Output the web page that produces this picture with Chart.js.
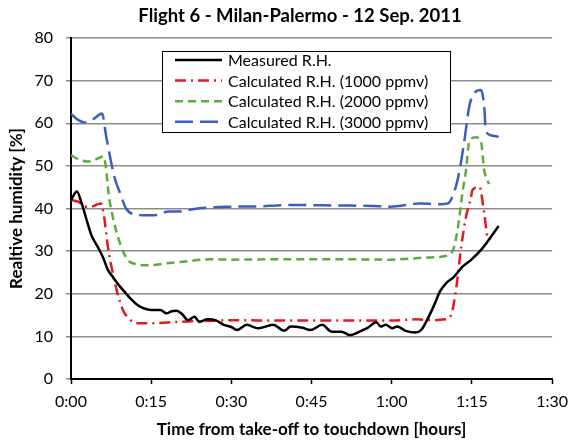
<!DOCTYPE html>
<html>
<head>
<meta charset="utf-8">
<script src="https://cdn.jsdelivr.net/npm/chart.js@4.4.1/dist/chart.umd.min.js"></script>
<style>
  html, body { margin: 0; padding: 0; background: #fff; }
  #wrap { width: 576px; height: 443px; }
</style>
</head>
<body>
<div id="wrap"><canvas id="mainChart" width="576" height="443"></canvas></div>
<script>
// Flight 6 - relative humidity, measured vs calculated (time in minutes)

const seriesNames = [
  'Measured R.H.',
  'Calculated R.H. (1000 ppmv)',
  'Calculated R.H. (2000 ppmv)',
  'Calculated R.H. (3000 ppmv)'
];

const measuredT = [0, 1.1, 2, 3, 3.8, 5, 6, 6.9, 7.8, 8.7, 10, 11.1, 12.3, 13.6, 15, 16.7, 17.9, 18.8, 19.7, 20.8, 21.9, 23.1, 24, 25.5, 27, 28.6, 30, 31, 32.9, 35, 37.8, 39.9, 41.1, 43.3, 44.8, 47, 48.8, 50.6, 52.2, 54.3, 55.5, 57.1, 58, 58.9, 60.1, 61, 62.6, 64.5, 65.5, 66.6, 68.1, 69, 70.2, 71.5, 73.3, 74.8, 77, 80];
const measuredRH = [42, 44, 41.2, 37, 33.8, 31, 28.5, 25.6, 24, 22.4, 20.5, 18.9, 17.5, 16.6, 16.2, 16.2, 15.4, 15.9, 16, 15.2, 13.8, 14.6, 13.4, 14, 13.8, 12.7, 12.2, 11.5, 12.7, 11.9, 12.7, 11.3, 12.3, 12, 11.5, 12.7, 11.1, 11.1, 10.3, 11.3, 12, 13.3, 12.3, 12.7, 11.9, 12.3, 11.3, 10.9, 11.5, 13.8, 17.8, 20.5, 22.5, 23.8, 26.4, 27.9, 30.7, 35.9];

const calc1000T = [0, 1.5, 2.6, 4, 5.6, 6.2, 6.9, 7.8, 8.7, 9.6, 10.5, 12.4, 15, 20, 25, 30, 40, 50, 60, 64.5, 67.8, 70, 71.1, 72.1, 73, 73.9, 74.8, 75.1, 76.4, 77.3, 77.9, 78.3];
const calc1000RH = [42, 41.5, 40.4, 40.5, 41.2, 38, 31, 25, 20.1, 16.5, 14.6, 13.1, 13.1, 13.4, 13.6, 13.8, 13.7, 13.7, 13.7, 14, 13.8, 14, 15, 21.6, 31, 38, 42.4, 44.3, 45.1, 38.9, 33.4, 32.6];

const calc2000T = [0, 1.5, 3.2, 4.6, 6.1, 7.2, 8.4, 9.9, 11, 12, 13, 15, 17.6, 20.9, 26.1, 30, 38.4, 50.6, 59.8, 66.6, 70.2, 71.5, 72.4, 73.3, 73.9, 74.5, 75.7, 76.7, 77.3, 78.2];
const calc2000RH = [52.5, 51.5, 51, 51.5, 52.2, 42, 35, 29.5, 27.5, 27, 26.7, 26.7, 27.1, 27.5, 28.1, 28, 28.1, 28.1, 28, 28.5, 28.9, 30.3, 35.7, 44.3, 49, 55.7, 56.7, 55.7, 49, 45.7];

const calc3000T = [0, 1.3, 2.6, 4.2, 5.8, 6.6, 8.1, 9.3, 10.3, 12, 14, 16, 18.2, 20, 23.7, 29.2, 35, 40.2, 43.9, 49.4, 56.8, 59.8, 65.3, 69, 70.5, 71.8, 72.7, 73.6, 74.5, 75.4, 76.7, 77.3, 77.6, 78.5, 80];
const calc3000RH = [62.2, 60.8, 60.2, 61, 62.3, 56.8, 47.5, 43.2, 40, 38.6, 38.4, 38.5, 39.3, 39.3, 40, 40.4, 40.5, 40.8, 40.8, 40.7, 40.6, 40.4, 41.2, 41, 41.2, 44.3, 49, 56, 63.9, 67, 67.8, 63.9, 58.4, 57.2, 56.8];

const xTicks = [0, 15, 30, 45, 60, 75, 90];
const yTicks = [0, 10, 20, 30, 40, 50, 60, 70, 80];

const colors = ['#000000', '#e31a1c', '#5aad3c', '#3b5fbf'];
const dashes = [[], [11, 5, 2, 5], [8, 5], [18, 7]];

const FONT = 'Lato, "Liberation Sans", sans-serif';
const TITLE = 'Flight 6 - Milan-Palermo - 12 Sep. 2011';

function toPoints(t, v) {
  return t.map((x, i) => ({ x: x, y: v[i] }));
}

function hhmm(min) {
  const h = Math.floor(min / 60);
  const m = Math.round(min % 60);
  return h + ':' + (m < 10 ? '0' + m : m);
}

const allT = [measuredT, calc1000T, calc2000T, calc3000T];
const allRH = [measuredRH, calc1000RH, calc2000RH, calc3000RH];

const datasets = seriesNames.map((name, i) => ({
  label: name,
  data: toPoints(allT[i], allRH[i]),
  borderColor: colors[i],
  borderWidth: 2.5,
  borderDash: dashes[i],
  pointRadius: 0,
  tension: 0.3,
  cubicInterpolationMode: 'monotone',
  fill: false
}));

// title + legend box drawn by hand (legend sits inside the plot)
const boxLegend = {
  id: 'boxLegend',
  afterDraw(chart) {
    const c = chart.ctx;
    c.save();
    c.fillStyle = '#000';
    c.font = 'bold 18.5px ' + FONT;
    c.textAlign = 'center';
    c.textBaseline = 'middle';
    c.fillText(TITLE, 300, 16);

    const x0 = 162, y0 = 51, w = 288, h = 81;
    c.fillStyle = '#fff';
    c.fillRect(x0, y0, w, h);
    c.strokeStyle = '#000';
    c.lineWidth = 1;
    c.strokeRect(x0 + 0.5, y0 + 0.5, w, h);
    c.font = '16px ' + FONT;
    c.textAlign = 'left';
    seriesNames.forEach((name, i) => {
      const y = 60 + i * 20.6;
      c.beginPath();
      c.setLineDash(dashes[i]);
      c.strokeStyle = colors[i];
      c.lineWidth = 2.5;
      c.moveTo(175, y);
      c.lineTo(222, y);
      c.stroke();
      c.setLineDash([]);
      c.fillStyle = '#000';
      c.fillText(name, 228, y + 1);
    });
    c.restore();
  }
};

const ctx = document.getElementById('mainChart').getContext('2d');

const chart = new Chart(ctx, {
  type: 'line',
  data: { datasets },
  plugins: [boxLegend],
  options: {
    responsive: false,
    animation: false,
    layout: { padding: { left: 0, right: 15, top: 38, bottom: 0 } },
    plugins: {
      legend: { display: false },
      tooltip: { enabled: false },
      title: { display: false }
    },
    scales: {
      x: {
        type: 'linear',
        min: 0,
        max: 90,
        afterBuildTicks: s => { s.ticks = xTicks.map(v => ({ value: v })); },
        afterFit: s => { s.height = 64; },
        ticks: {
          color: '#000',
          font: { family: FONT, size: 16 },
          padding: 8,
          maxRotation: 0,
          callback: v => hhmm(v)
        },
        grid: { drawOnChartArea: false, drawTicks: true, tickLength: 5, tickColor: '#000', tickWidth: 1.5 },
        border: { color: '#000', width: 2 },
        title: {
          display: true,
          text: 'Time from take-off to touchdown [hours]',
          color: '#000',
          font: { family: FONT, size: 17, weight: 'bold' },
          padding: { top: 0, bottom: 3 }
        }
      },
      y: {
        min: 0,
        max: 80,
        afterBuildTicks: s => { s.ticks = yTicks.map(v => ({ value: v })); },
        afterFit: s => { s.width = 71; },
        ticks: {
          color: '#000',
          font: { family: FONT, size: 16 },
          padding: 13
        },
        grid: { color: '#8c8c8c', lineWidth: 1.5, drawTicks: true, tickLength: 5, tickColor: '#8c8c8c' },
        border: { color: '#000', width: 2 },
        title: {
          display: true,
          text: 'Realtive humidity [%]',
          color: '#000',
          font: { family: FONT, size: 17, weight: 'bold' },
          padding: { top: 6, bottom: 0 }
        }
      }
    }
  }
});
</script>
</body>
</html>
